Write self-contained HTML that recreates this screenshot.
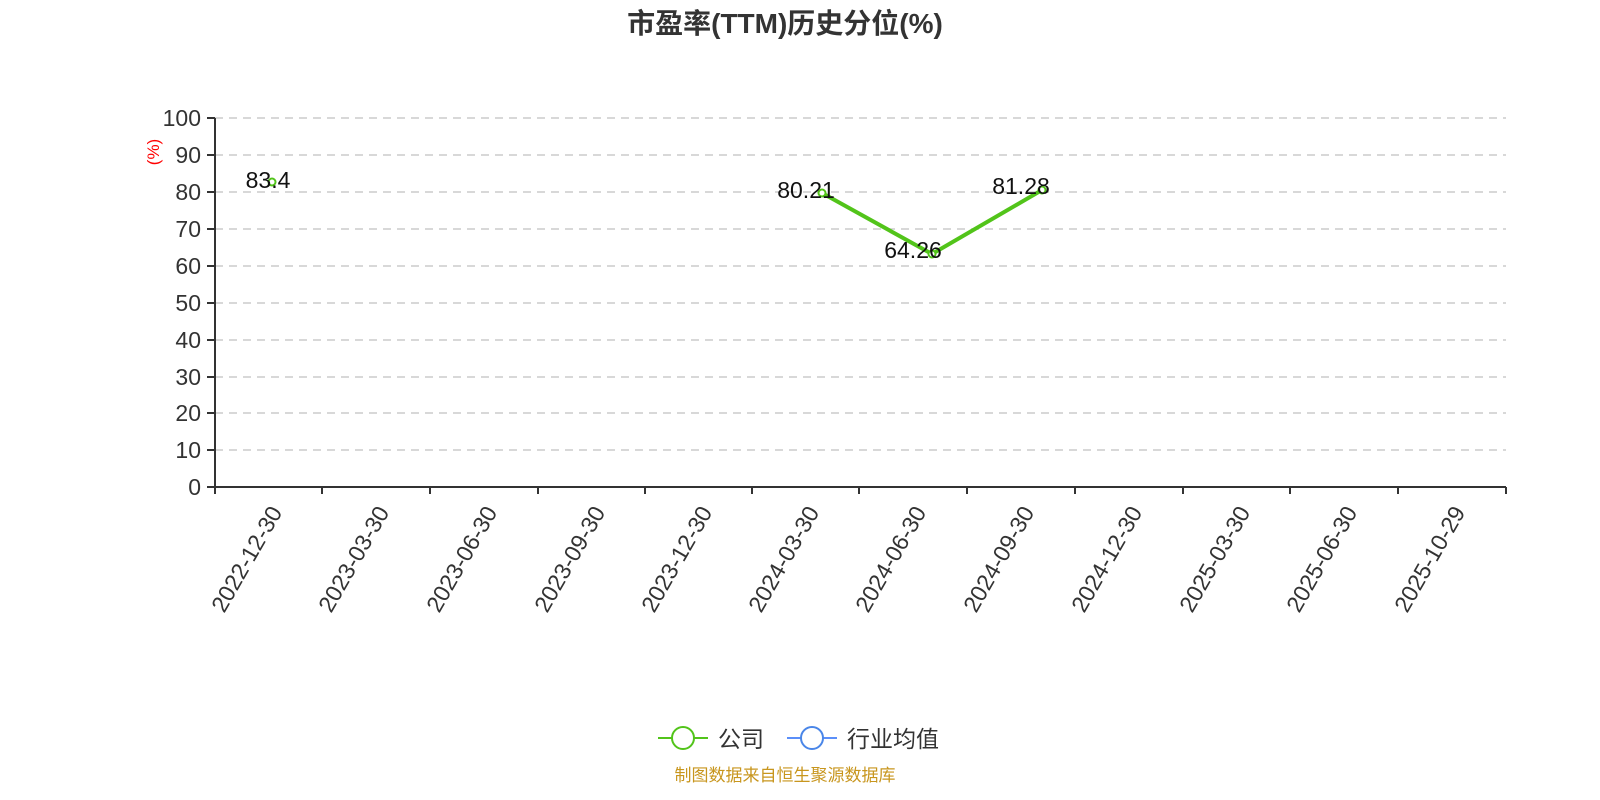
<!DOCTYPE html>
<html><head><meta charset="utf-8"><style>
body{margin:0;background:#fff;}
svg{display:block;font-family:"Liberation Sans","Noto Sans CJK SC",sans-serif;}
</style></head><body>
<svg width="1600" height="800" xmlns="http://www.w3.org/2000/svg">
<text x="785" y="33" text-anchor="middle" font-size="28" font-weight="bold" fill="#333">市盈率(TTM)历史分位(%)</text>
<g stroke="#ccc" stroke-width="1.5" stroke-dasharray="8,6">
<line x1="215" x2="1506" y1="118" y2="118"/><line x1="215" x2="1506" y1="155" y2="155"/>
<line x1="215" x2="1506" y1="192" y2="192"/><line x1="215" x2="1506" y1="229" y2="229"/>
<line x1="215" x2="1506" y1="266" y2="266"/><line x1="215" x2="1506" y1="303" y2="303"/>
<line x1="215" x2="1506" y1="340" y2="340"/><line x1="215" x2="1506" y1="377" y2="377"/>
<line x1="215" x2="1506" y1="413" y2="413"/><line x1="215" x2="1506" y1="450" y2="450"/>
</g>
<g stroke="#333" stroke-width="2">
<line x1="215" y1="118" x2="215" y2="487"/>
<line x1="215" y1="487" x2="1506" y2="487"/>
<line x1="207" x2="215" y1="118" y2="118"/><line x1="207" x2="215" y1="155" y2="155"/>
<line x1="207" x2="215" y1="192" y2="192"/><line x1="207" x2="215" y1="229" y2="229"/>
<line x1="207" x2="215" y1="266" y2="266"/><line x1="207" x2="215" y1="303" y2="303"/>
<line x1="207" x2="215" y1="340" y2="340"/><line x1="207" x2="215" y1="377" y2="377"/>
<line x1="207" x2="215" y1="413" y2="413"/><line x1="207" x2="215" y1="450" y2="450"/>
<line x1="207" x2="215" y1="487" y2="487"/>
<line x1="215" x2="215" y1="487" y2="494"/><line x1="322" x2="322" y1="487" y2="494"/>
<line x1="430" x2="430" y1="487" y2="494"/><line x1="538" x2="538" y1="487" y2="494"/>
<line x1="645" x2="645" y1="487" y2="494"/><line x1="752" x2="752" y1="487" y2="494"/>
<line x1="859" x2="859" y1="487" y2="494"/><line x1="967" x2="967" y1="487" y2="494"/>
<line x1="1075" x2="1075" y1="487" y2="494"/><line x1="1183" x2="1183" y1="487" y2="494"/>
<line x1="1290" x2="1290" y1="487" y2="494"/><line x1="1398" x2="1398" y1="487" y2="494"/>
<line x1="1506" x2="1506" y1="487" y2="494"/>
</g>
<g font-size="23" fill="#333" text-anchor="end">
<text x="201" y="126">100</text><text x="201" y="163">90</text><text x="201" y="200">80</text>
<text x="201" y="237">70</text><text x="201" y="274">60</text><text x="201" y="311">50</text>
<text x="201" y="348">40</text><text x="201" y="385">30</text><text x="201" y="421">20</text>
<text x="201" y="458">10</text><text x="201" y="495">0</text>
</g>
<text transform="translate(159,152) rotate(-90)" font-size="17" fill="#f00" text-anchor="middle">(%)</text>
<g font-size="23" fill="#333" text-anchor="end" dominant-baseline="central">
<text transform="translate(276,508) rotate(-60)">2022-12-30</text>
<text transform="translate(383,508) rotate(-60)">2023-03-30</text>
<text transform="translate(491,508) rotate(-60)">2023-06-30</text>
<text transform="translate(599,508) rotate(-60)">2023-09-30</text>
<text transform="translate(706,508) rotate(-60)">2023-12-30</text>
<text transform="translate(813,508) rotate(-60)">2024-03-30</text>
<text transform="translate(920,508) rotate(-60)">2024-06-30</text>
<text transform="translate(1028,508) rotate(-60)">2024-09-30</text>
<text transform="translate(1136,508) rotate(-60)">2024-12-30</text>
<text transform="translate(1244,508) rotate(-60)">2025-03-30</text>
<text transform="translate(1351,508) rotate(-60)">2025-06-30</text>
<text transform="translate(1459,508) rotate(-60)">2025-10-29</text>
</g>
<polyline points="822,193 932,254 1042,190" fill="none" stroke="#52c41a" stroke-width="4"/>
<g fill="#fff" stroke="#52c41a" stroke-width="2">
<circle cx="272" cy="182" r="3.5"/><circle cx="822" cy="193" r="3.5"/>
<circle cx="932" cy="254" r="3.5"/><circle cx="1042" cy="190" r="3.5"/>
</g>
<g font-size="23" fill="#111" text-anchor="middle">
<text x="268" y="188">83.4</text><text x="806" y="198">80.21</text>
<text x="913" y="258">64.26</text><text x="1021" y="194">81.28</text>
</g>
<line x1="658" y1="738" x2="708" y2="738" stroke="#52c41a" stroke-width="2"/>
<circle cx="683" cy="738" r="11" fill="#fff" stroke="#52c41a" stroke-width="2"/>
<text x="718" y="747" font-size="23" fill="#333">公司</text>
<line x1="787" y1="738" x2="837" y2="738" stroke="#5b8ff9" stroke-width="2"/>
<circle cx="812" cy="738" r="11" fill="#fff" stroke="#4a86e8" stroke-width="2"/>
<text x="847" y="747" font-size="23" fill="#333">行业均值</text>
<text x="785" y="781" font-size="17" fill="#c8961e" text-anchor="middle">制图数据来自恒生聚源数据库</text>
</svg>
</body></html>
